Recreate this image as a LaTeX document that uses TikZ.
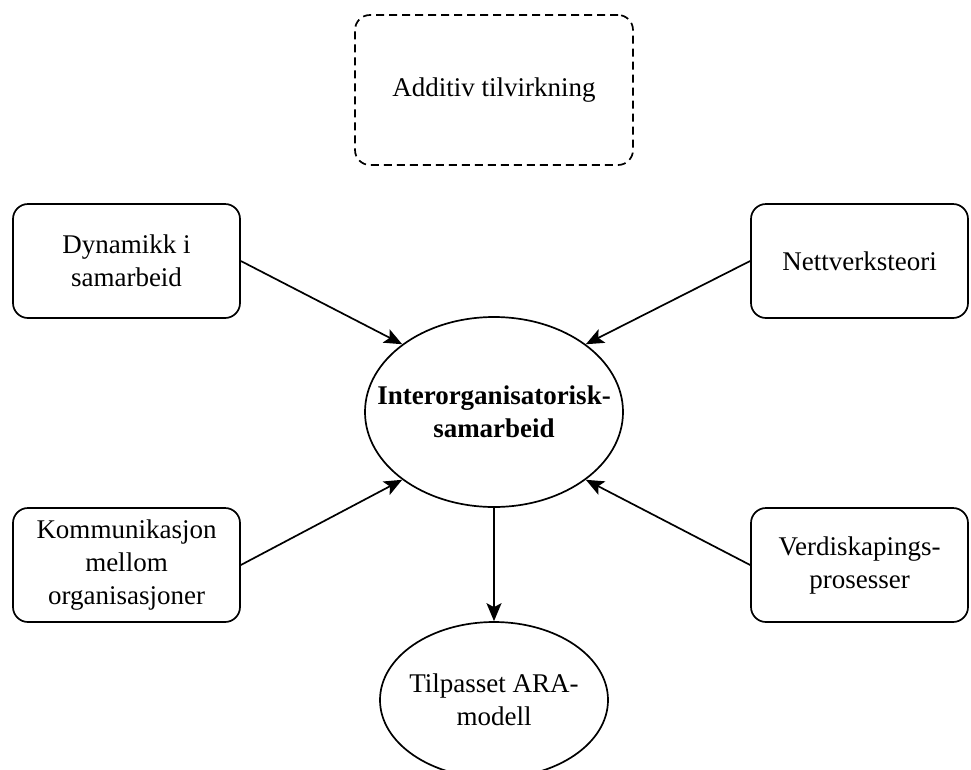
\documentclass[tikz,border=0pt]{standalone}
\usepackage{fontspec}
\setmainfont{Liberation Serif}
\usepackage{tikz}
\usetikzlibrary{shapes.geometric}
\usetikzlibrary{arrows.meta}

\begin{document}
\begin{tikzpicture}[
	x=1pt,
	y=-1pt,
	box/.style={
		rectangle,
		rounded corners=15pt,
		draw=black,
		line width=1.7pt,
		align=center,
		minimum height=114pt,
		inner sep=0pt
		},
	core/.style={
		ellipse,
		draw=black,
		line width=1.7pt,
		align=center,
		inner ysep=0pt
	},
	link/.style={
		line width=1.7pt,
		-{Stealth[length=18pt,width=15pt,inset=4pt]}
	},
	every node/.style={font=\fontsize{27}{33}\selectfont}
]
\useasboundingbox (0,0) rectangle (971,769);

% Centre
\node [core, inner xsep=-26pt, minimum width=258pt, minimum height=190pt, font=\fontsize{27}{33}\selectfont\bfseries] (Samarbeid) at (494,412) {Interorganisatorisk-\\samarbeid};
\node [core, inner xsep=-5pt, minimum width=228pt, minimum height=156pt] (ARA) at (494,700) {Tilpasset ARA-\\modell};

% Boxes
\node [box, dash pattern=on 8pt off 5pt, minimum width=278pt, minimum height=150pt] (Tilvirkning) at (494,90) {Additiv tilvirkning};
\node [box, minimum width=227pt] (Dynamikk) at (126.5,261) {Dynamikk i\\samarbeid};
\node [box, minimum width=217pt] (Nettverk) at (859.5,261) {Nettverksteori};
\node [box, minimum width=227pt] (Kommunikasjon) at (126.5,565) {Kommunikasjon\\mellom\\organisasjoner};
\node [box, minimum width=217pt] (Verdiskaping) at (859.5,565) {Verdiskapings-\\prosesser};

% Arrows
\draw [link] (Dynamikk.east) -- (Samarbeid.north west);
\draw [link] (Nettverk.west) -- (Samarbeid.north east);
\draw [link] (Kommunikasjon.east) -- (Samarbeid.south west);
\draw [link] (Verdiskaping.west) -- (Samarbeid.south east);
\draw [link] (Samarbeid.south) -- (ARA.north);

\end{tikzpicture}
\end{document}
